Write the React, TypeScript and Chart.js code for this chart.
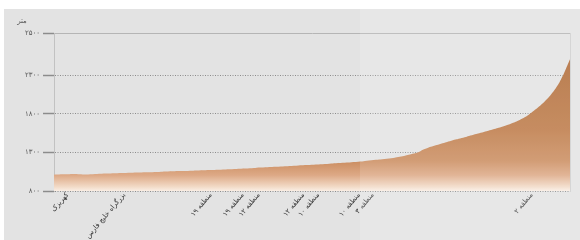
import React, { useEffect, useRef } from "react";
import { Chart, registerables } from "chart.js";

Chart.register(...registerables);

// distance along the profile (0 = Kahrizak, 100 = north end)
const distance = [0, 2, 4, 6, 9, 12, 15, 18, 21, 24, 27, 30, 33, 36, 39, 42, 45, 48, 51, 54, 57, 60, 63, 66, 68, 69.5, 70.5, 71.5, 72.5, 74, 76, 78, 80, 82, 84, 86, 88, 89.5, 91, 92, 93, 94, 95, 96, 97, 98, 98.8, 99.5, 100];
// elevation in metres
const elevation = [1012, 1016, 1020, 1014, 1024, 1030, 1036, 1042, 1050, 1058, 1064, 1072, 1080, 1090, 1100, 1110, 1120, 1134, 1144, 1158, 1170, 1186, 1208, 1232, 1258, 1282, 1300, 1336, 1362, 1392, 1432, 1470, 1505, 1542, 1578, 1616, 1660, 1700, 1748, 1790, 1840, 1895, 1955, 2025, 2110, 2215, 2320, 2430, 2510];

const yTickValues = [800, 1300, 1800, 2300, 2850];
const yTickLabels = ["۸۰۰", "۱۳۰۰", "۱۸۰۰", "۲۳۰۰", "۲۵۰۰"];

const xTickValues = [2.6, 13.6, 30.4, 36.6, 39.7, 48.3, 51.2, 59.1, 61.8, 92.6];
const xTickLabels = [
  "کهریزک",
  "بزرگراه خلیج فارس",
  "منطقه ۱۹",
  "منطقه ۱۹",
  "منطقه ۱۲",
  "منطقه ۱۲",
  "منطقه ۱۰",
  "منطقه ۱۰",
  "منطقه ۳",
  "منطقه ۲",
];

const unitLabel = "متر";

const FONT = "DejaVu Sans";

export default function App() {
  const ref = useRef<HTMLCanvasElement | null>(null);

  useEffect(() => {
    const canvas = ref.current;
    if (!canvas) return;

    const backgroundPlugin = {
      id: "bgPanel",
      beforeDraw(chart: any) {
        const c = chart.ctx;
        c.save();
        c.fillStyle = "#ffffff";
        c.fillRect(0, 0, chart.width, chart.height);
        c.fillStyle = "#e3e3e3";
        c.fillRect(4, 9, chart.width - 4, chart.height - 9);
        c.restore();
      },
      afterDraw(chart: any) {
        const c = chart.ctx;
        c.save();
        c.fillStyle = "rgba(255,255,255,0.14)";
        c.fillRect(360, 9, chart.width - 360, chart.height - 9);
        c.fillStyle = "#555555";
        c.font = `7px "${FONT}"`;
        c.textAlign = "center";
        c.textBaseline = "middle";
        c.fillText(unitLabel, 22, 21);
        c.restore();
      },
    };

    const chart = new Chart(canvas, {
      type: "line",
      data: {
        datasets: [
          {
            data: distance.map((d, i) => ({ x: d, y: elevation[i] })),
            borderWidth: 0,
            pointRadius: 0,
            tension: 0.2,
            fill: "start",
            backgroundColor: (ctx: any) => {
              const area = ctx.chart.chartArea;
              if (!area) return "#c98a5c";
              const g = ctx.chart.ctx.createLinearGradient(0, area.top, 0, area.bottom);
              g.addColorStop(0, "#a9632f");
              g.addColorStop(0.61, "#bd7a47");
              g.addColorStop(0.81, "#cb8d60");
              g.addColorStop(0.9, "#dda986");
              g.addColorStop(0.97, "#f1d8c4");
              g.addColorStop(1, "#faeee4");
              return g;
            },
          },
        ],
      },
      options: {
        responsive: false,
        animation: false,
        layout: { padding: { left: 0, right: 10, top: 33, bottom: 0 } },
        plugins: { legend: { display: false }, tooltip: { enabled: false } },
        scales: {
          x: {
            type: "linear",
            min: 0,
            max: 100,
            afterBuildTicks: (s: any) => {
              s.ticks = xTickValues.map((v) => ({ value: v }));
            },
            afterFit: (s: any) => {
              s.height = 49;
            },
            grid: { display: false, drawTicks: false },
            border: { display: false },
            ticks: {
              autoSkip: false,
              minRotation: 50,
              maxRotation: 50,
              padding: 0,
              color: "#333333",
              font: { family: FONT, size: 7 },
              callback: (_v: any, i: number) => xTickLabels[i],
            },
          },
          xTop: {
            type: "linear",
            position: "top",
            min: 0,
            max: 100,
            afterFit: (s: any) => {
              s.height = 0;
            },
            ticks: { display: false },
            grid: { display: false },
            border: { display: true, color: "#b5b5b5", width: 1 },
          },
          y: {
            type: "linear",
            min: 800,
            max: 2850,
            afterBuildTicks: (s: any) => {
              s.ticks = yTickValues.map((v) => ({ value: v }));
            },
            afterFit: (s: any) => {
              s.width = 54;
            },
            grid: {
              color: (c: any) => (c.index === yTickValues.length - 1 ? "rgba(0,0,0,0)" : "#8c8c8c"),
              lineWidth: 1,
              tickLength: 11,
              tickWidth: 1.5,
              tickColor: "#8c8c8c",
            },
            border: { display: true, color: "#c2c2c2", width: 1, dash: [1, 1.5] },
            ticks: {
              padding: 3,
              color: "#555555",
              font: { family: FONT, size: 7 },
              callback: (_v: any, i: number) => yTickLabels[i],
            },
          },
          yRight: {
            type: "linear",
            position: "right",
            min: 800,
            max: 2850,
            afterFit: (s: any) => {
              s.width = 0;
            },
            ticks: { display: false },
            grid: { display: false },
            border: { display: true, color: "#cfcfcf", width: 1 },
          },
        },
      },
      plugins: [backgroundPlugin],
    } as any);

    return () => chart.destroy();
  }, []);

  return (
    <canvas
      ref={ref}
      width={580}
      height={240}
      style={{ position: "fixed", left: 0, top: 0, width: 580, height: 240, display: "block" }}
    />
  );
}
